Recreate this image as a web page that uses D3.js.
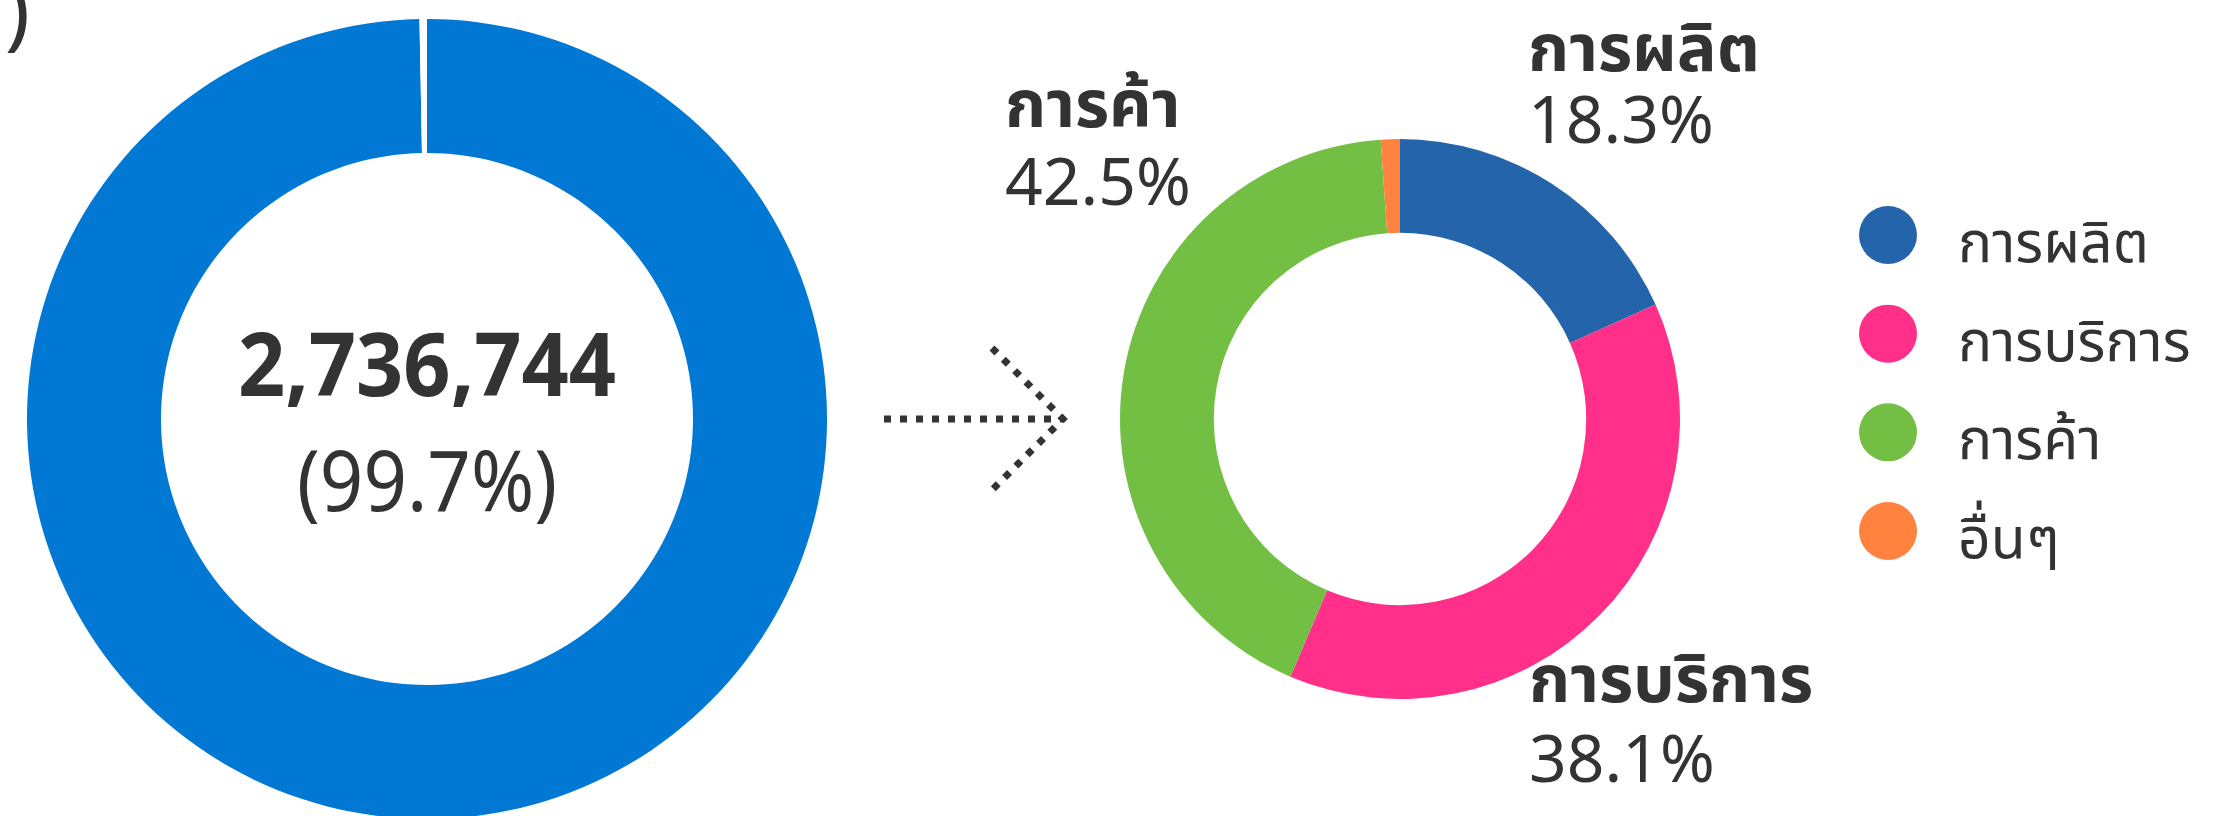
<!DOCTYPE html>
<html>
<head>
<meta charset="utf-8">
<script src="https://cdn.jsdelivr.net/npm/d3@7/dist/d3.min.js"></script>
<style>
  html, body { margin: 0; padding: 0; background: #fff; }
  svg { display: block; font-family: "Noto Sans Thai", "Noto Sans", sans-serif; }
  text { fill: #333; }
</style>
</head>
<body>
<div id="chart"></div>
<script>
'use strict';

// left donut: share of the total
var totalValue = 2736744;
var totalShare = [99.7, 0.3];
var totalColors = ['#0078d4', '#ffffff'];

// right donut: breakdown by sector
var categories = ['การผลิต', 'การบริการ', 'การค้า', 'อื่นๆ'];
var shares = [18.3, 38.1, 42.5, 1.1];
var sectorColors = ['#2364aa', '#ff2f8a', '#72bf44', '#ff823f'];

var width = 2223,
  height = 816;

var svg = d3.select('#chart').append('svg')
  .attr('width', width)
  .attr('height', height)
  .attr('viewBox', [0, 0, width, height]);

// clipped bracket left over from the title
svg.append('text')
  .attr('x', 30)
  .attr('y', 40)
  .attr('text-anchor', 'end')
  .style('font-size', '84px')
  .text(')');

var pie = d3.pie().sort(null).value(function(d) { return d; });

// ---- left donut
var left = { cx: 427, cy: 419, r: 400 };
var leftArc = d3.arc().outerRadius(left.r).innerRadius(left.r * 0.665);
var gLeft = svg.append('g').attr('transform', 'translate(' + left.cx + ',' + left.cy + ')');

gLeft.selectAll('path')
  .data(pie(totalShare))
  .enter()
  .append('path')
  .attr('d', leftArc)
  .attr('fill', function(d, i) { return totalColors[i]; });

// one text block, two lines
var centre = gLeft.append('text').attr('text-anchor', 'middle');

centre.append('tspan')
  .attr('x', 0)
  .attr('y', -23)
  .attr('textLength', 378)
  .attr('lengthAdjust', 'spacingAndGlyphs')
  .style('font-size', '88px')
  .style('font-weight', 700)
  .text(d3.format(',')(totalValue));

centre.append('tspan')
  .attr('x', 0)
  .attr('y', 92)
  .attr('textLength', 260)
  .attr('lengthAdjust', 'spacingAndGlyphs')
  .style('font-size', '84px')
  .text('(' + totalShare[0] + '%)');

// ---- arrow
var arrow = svg.append('g')
  .attr('fill', 'none')
  .attr('stroke', '#333')
  .attr('stroke-width', 7)
  .attr('stroke-dasharray', '7,9');

arrow.append('path').attr('d', d3.line()([[884, 419], [1063, 419]]));
arrow.append('path').attr('d', d3.line()([[992, 348], [1063, 419], [992, 490]]));

// ---- right donut
var right = { cx: 1400, cy: 419, r: 280 };
var color = d3.scaleOrdinal().domain(categories).range(sectorColors);
var rightArc = d3.arc().outerRadius(right.r).innerRadius(right.r * 0.665);
var gRight = svg.append('g').attr('transform', 'translate(' + right.cx + ',' + right.cy + ')');

var slices = pie(shares).map(function(d, i) {
  d.name = categories[i];
  return d;
});

gRight.selectAll('path')
  .data(slices)
  .enter()
  .append('path')
  .attr('d', rightArc)
  .attr('fill', function(d) { return color(d.name); });

// label anchors relative to the donut centre (name baseline, value baseline)
var labelPos = [
  { x: 128, y: -348, y2: -276 },
  { x: 129, y: 283, y2: 363 },
  { x: -395, y: -292, y2: -214 }
];

var labels = gRight.selectAll('text.label')
  .data(slices.slice(0, 3))
  .enter()
  .append('text')
  .attr('class', 'label');

labels.append('tspan')
  .attr('x', function(d, i) { return labelPos[i].x; })
  .attr('y', function(d, i) { return labelPos[i].y; })
  .style('font-size', '66px')
  .style('font-weight', 700)
  .text(function(d) { return d.name; });

labels.append('tspan')
  .attr('x', function(d, i) { return labelPos[i].x; })
  .attr('y', function(d, i) { return labelPos[i].y2; })
  .style('font-size', '66px')
  .text(function(d) { return d.data.toFixed(1) + '%'; });

// ---- legend
var legendY = d3.scalePoint().domain(categories).range([235, 531]);

var legend = svg.append('g')
  .selectAll('g')
  .data(categories)
  .enter()
  .append('g')
  .attr('transform', function(d) { return 'translate(1888,' + legendY(d) + ')'; });

legend.append('circle')
  .attr('r', 29)
  .attr('fill', function(d) { return color(d); });

legend.append('text')
  .attr('x', 70)
  .attr('y', 27)
  .style('font-size', '57px')
  .text(function(d) { return d; });
</script>
</body>
</html>
